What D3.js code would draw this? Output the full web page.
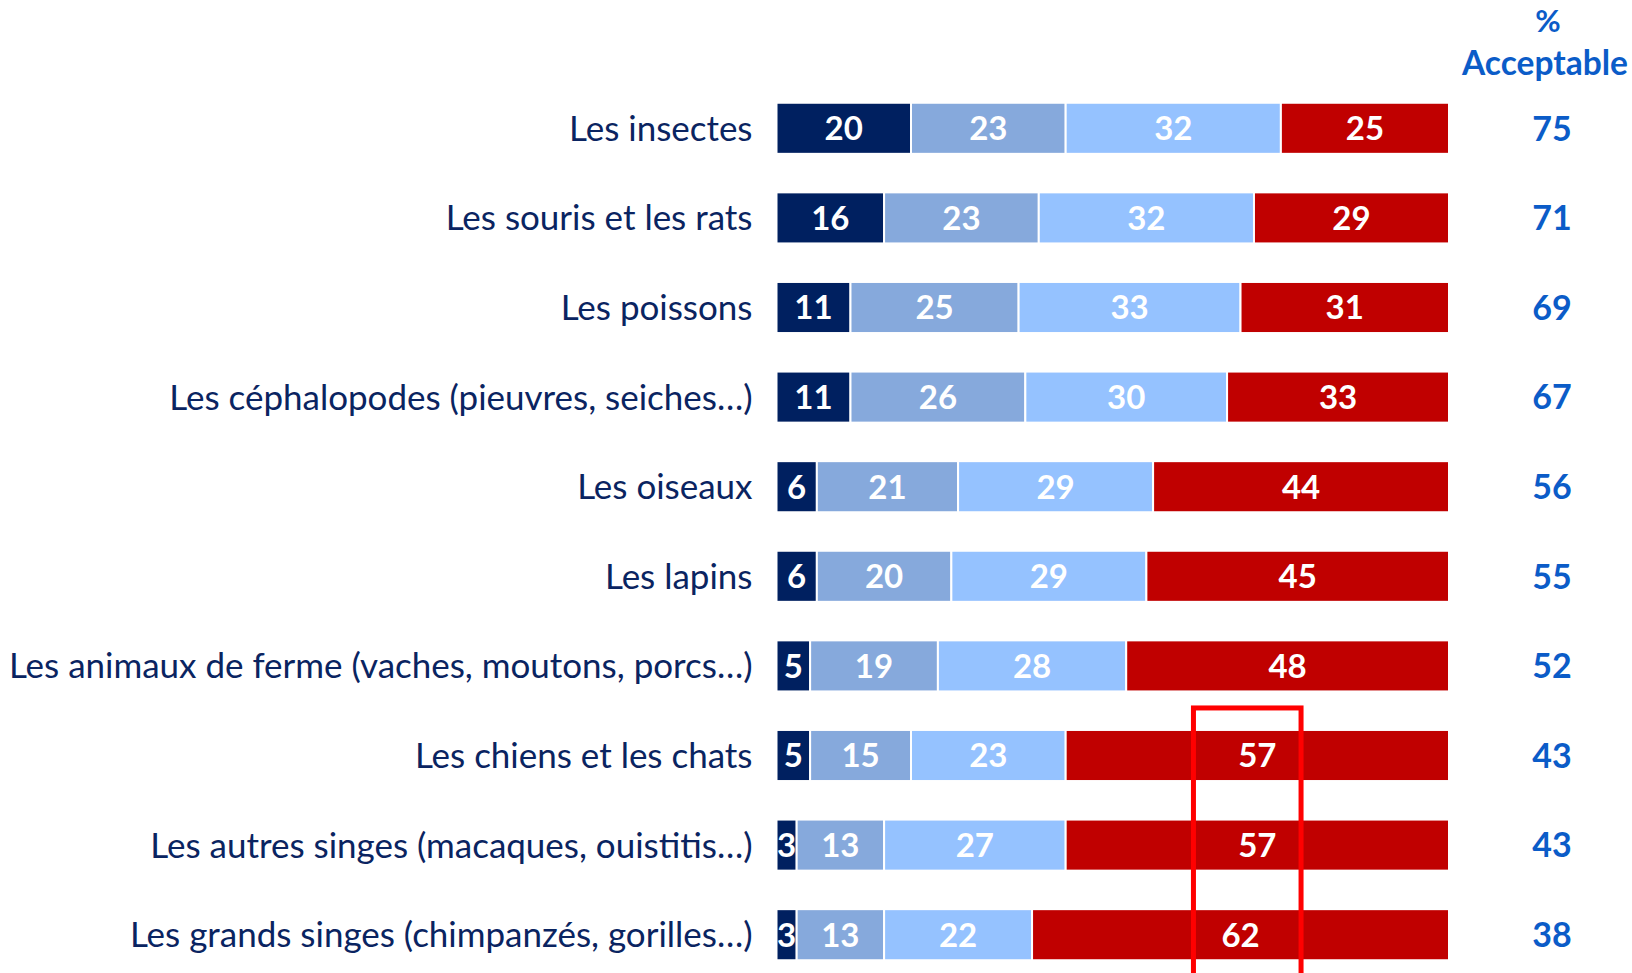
<!DOCTYPE html>
<html>
<head>
<meta charset="utf-8">
<script src="https://cdn.jsdelivr.net/npm/d3@7"></script>
<style>
  html, body { margin: 0; padding: 0; background: #fff; overflow: hidden; }
  svg { display: block; }
</style>
</head>
<body>
<svg id="chart" width="1632" height="973"></svg>
<script>
const categories = [
  "Les insectes",
  "Les souris et les rats",
  "Les poissons",
  "Les céphalopodes (pieuvres, seiches…)",
  "Les oiseaux",
  "Les lapins",
  "Les animaux de ferme (vaches, moutons, porcs…)",
  "Les chiens et les chats",
  "Les autres singes (macaques, ouistitis…)",
  "Les grands singes (chimpanzés, gorilles…)"
];
const seriesNames = ["s1", "s2", "s3", "s4"];
const series1 = [20, 16, 11, 11, 6, 6, 5, 5, 3, 3];
const series2 = [23, 23, 25, 26, 21, 20, 19, 15, 13, 13];
const series3 = [32, 32, 33, 30, 29, 29, 28, 23, 27, 22];
const series4 = [25, 29, 31, 33, 44, 45, 48, 57, 57, 62];
const acceptable = [75, 71, 69, 67, 56, 55, 52, 43, 43, 38];
const headerLines = ["%", "Acceptable"];
const highlightRange = [62, 78];
const colors = ["#002060", "#86a9dc", "#95c2ff", "#c00000"];

const svg = d3.select("#chart");
const x = d3.scaleLinear().domain([0, 100]).range([776.5, 1449]);
const y = d3.scaleBand().domain(categories).range([83.5, 979.5]).paddingInner(0.43).paddingOuter(0.215);

const rows = categories.map((c, i) => {
  const vals = [series1[i], series2[i], series3[i], series4[i]];
  let cum = 0;
  const segs = vals.map((v, k) => { const s = { cat: c, k, v, x0: cum, x1: cum + v }; cum += v; return s; });
  return { cat: c, segs, acc: acceptable[i] };
});

const rowG = svg.selectAll("g.row").data(rows).join("g").attr("class", "row");

rowG.selectAll("rect").data(d => d.segs).join("rect")
  .attr("x", d => x(d.x0))
  .attr("y", d => y(d.cat))
  .attr("width", d => x(d.x1) - x(d.x0))
  .attr("height", y.bandwidth())
  .attr("fill", d => colors[d.k])
  .attr("stroke", "#fff")
  .attr("stroke-width", 2);

rowG.selectAll("text.val").data(d => d.segs).join("text")
  .attr("class", "val")
  .attr("x", d => (x(d.x0) + x(d.x1)) / 2)
  .attr("y", d => y(d.cat) + y.bandwidth() / 2)
  .attr("dy", "0.36em")
  .attr("text-anchor", "middle")
  .attr("font-family", "Lato, 'Open Sans', sans-serif")
  .attr("font-weight", "bold")
  .attr("font-size", 33)
  .attr("fill", "#fff")
  .text(d => d.v);

// category labels
const labels = svg.selectAll("text.cat").data(categories).join("text")
  .attr("class", "cat")
  .attr("x", 752.5)
  .attr("y", d => y(d) + y.bandwidth() / 2)
  .attr("dy", "0.36em")
  .attr("text-anchor", "end")
  .attr("font-family", "Lato, 'Open Sans', sans-serif")
  .attr("font-size", 32)
  .attr("fill", "#0a2461")
  .text(d => d);
let maxW = 0;
labels.each(function() { maxW = Math.max(maxW, this.getComputedTextLength()); });
const fs = 32 * 744 / maxW;
labels.attr("font-size", fs);

// acceptable values
const accX = 1552;
svg.selectAll("text.acc").data(rows).join("text")
  .attr("class", "acc")
  .attr("x", accX)
  .attr("y", d => y(d.cat) + y.bandwidth() / 2)
  .attr("dy", "0.36em")
  .attr("text-anchor", "middle")
  .attr("font-family", "Lato, 'Open Sans', sans-serif")
  .attr("font-weight", "bold")
  .attr("font-size", 34)
  .attr("fill", "#0b5cc8")
  .text(d => d.acc);

svg.selectAll("text.hdr").data(headerLines).join("text")
  .attr("class", "hdr")
  .attr("x", (d, i) => i === 0 ? accX - 4 : 1545)
  .attr("y", (d, i) => [21, 63][i])
  .attr("dy", "0.36em")
  .attr("text-anchor", "middle")
  .attr("font-family", "Lato, 'Open Sans', sans-serif")
  .attr("font-weight", "bold")
  .attr("font-size", (d, i) => i === 0 ? 31 : 33.5)
  .attr("fill", "#0b5cc8")
  .text(d => d);

// highlight rectangle
const hlRow = categories[7];
svg.append("rect")
  .attr("x", x(highlightRange[0]))
  .attr("y", y(hlRow) - 22)
  .attr("width", x(highlightRange[1]) - x(highlightRange[0]))
  .attr("height", 973 - (y(hlRow) - 22) + 10)
  .attr("fill", "none")
  .attr("stroke", "#ff0000")
  .attr("stroke-width", 5);
</script>
</body>
</html>
